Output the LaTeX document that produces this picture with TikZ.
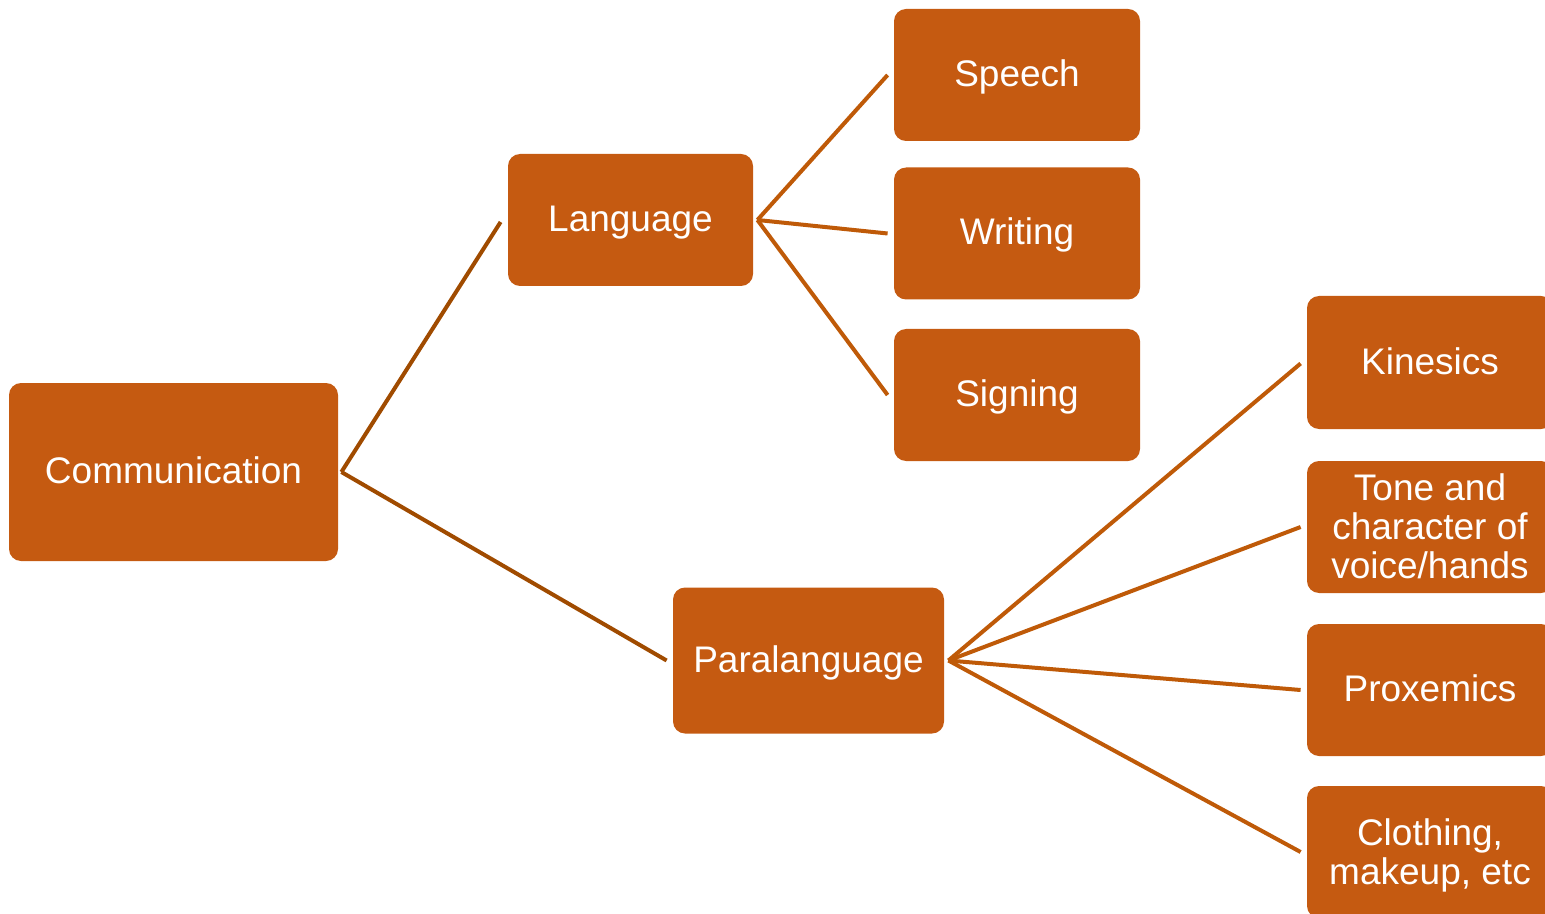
\documentclass[tikz,border=0pt]{standalone}
\usepackage{fontspec}
\setmainfont{Liberation Sans}
\definecolor{boxfill}{HTML}{C55A11}
\definecolor{linedark}{HTML}{A04B00}
\definecolor{linemid}{HTML}{BF5A08}
\begin{document}
\begin{tikzpicture}[x=0.5pt,y=-0.5pt,
  box/.style={fill=boxfill, rounded corners=6pt, text=white, align=center,
    font=\fontsize{18.5}{19.5}\selectfont, inner sep=0pt, text height=14pt, text depth=2.5pt},
  twoline/.style={text height=34.5pt},
  threeline/.style={text height=53.5pt},
  conn/.style={line width=2pt, line cap=butt}
]
\clip (0,0) rectangle (1545,914);
\node[box, minimum width=164.5pt, minimum height=89pt] (comm) at (173.5,472) {Communication};
\node[box, minimum width=122.5pt, minimum height=66pt] (lang) at (630.5,220) {Language};
\node[box, minimum width=135.5pt, minimum height=73pt] (para) at (808.5,660.5) {Paralanguage};
\node[box, minimum width=123pt, minimum height=66pt] (speech) at (1017,75) {Speech};
\node[box, minimum width=123pt, minimum height=66pt] (writing) at (1017,233.5) {Writing};
\node[box, minimum width=123pt, minimum height=66pt] (signing) at (1017,395) {Signing};
\node[box, minimum width=123pt, minimum height=66.5pt] (kin) at (1430,362.5) {Kinesics};
\node[box, threeline, minimum width=123pt, minimum height=66pt] (tone) at (1430,527) {Tone and\\character of\\voice/hands};
\node[box, minimum width=123pt, minimum height=66pt] (prox) at (1430,690) {Proxemics};
\node[box, twoline, minimum width=123pt, minimum height=66pt] (cloth) at (1430,852) {Clothing,\\makeup, etc};

\draw[conn, linedark] ([xshift=1.5pt]comm.east) -- ([xshift=-3.5pt,yshift=-1pt]lang.west);
\draw[conn, linedark] ([xshift=1.5pt]comm.east) -- ([xshift=-3pt]para.west);
\draw[conn, linemid] ([xshift=2pt]lang.east) -- ([xshift=-3pt]speech.west);
\draw[conn, linemid] ([xshift=2pt]lang.east) -- ([xshift=-3pt]writing.west);
\draw[conn, linemid] ([xshift=2pt]lang.east) -- ([xshift=-3pt]signing.west);
\draw[conn, linemid] ([xshift=2pt]para.east) -- ([xshift=-3pt,yshift=-0.5pt]kin.west);
\draw[conn, linemid] ([xshift=2pt]para.east) -- ([xshift=-3pt]tone.west);
\draw[conn, linemid] ([xshift=2pt]para.east) -- ([xshift=-3pt]prox.west);
\draw[conn, linemid] ([xshift=2pt]para.east) -- ([xshift=-3pt]cloth.west);
\end{tikzpicture}
\end{document}
